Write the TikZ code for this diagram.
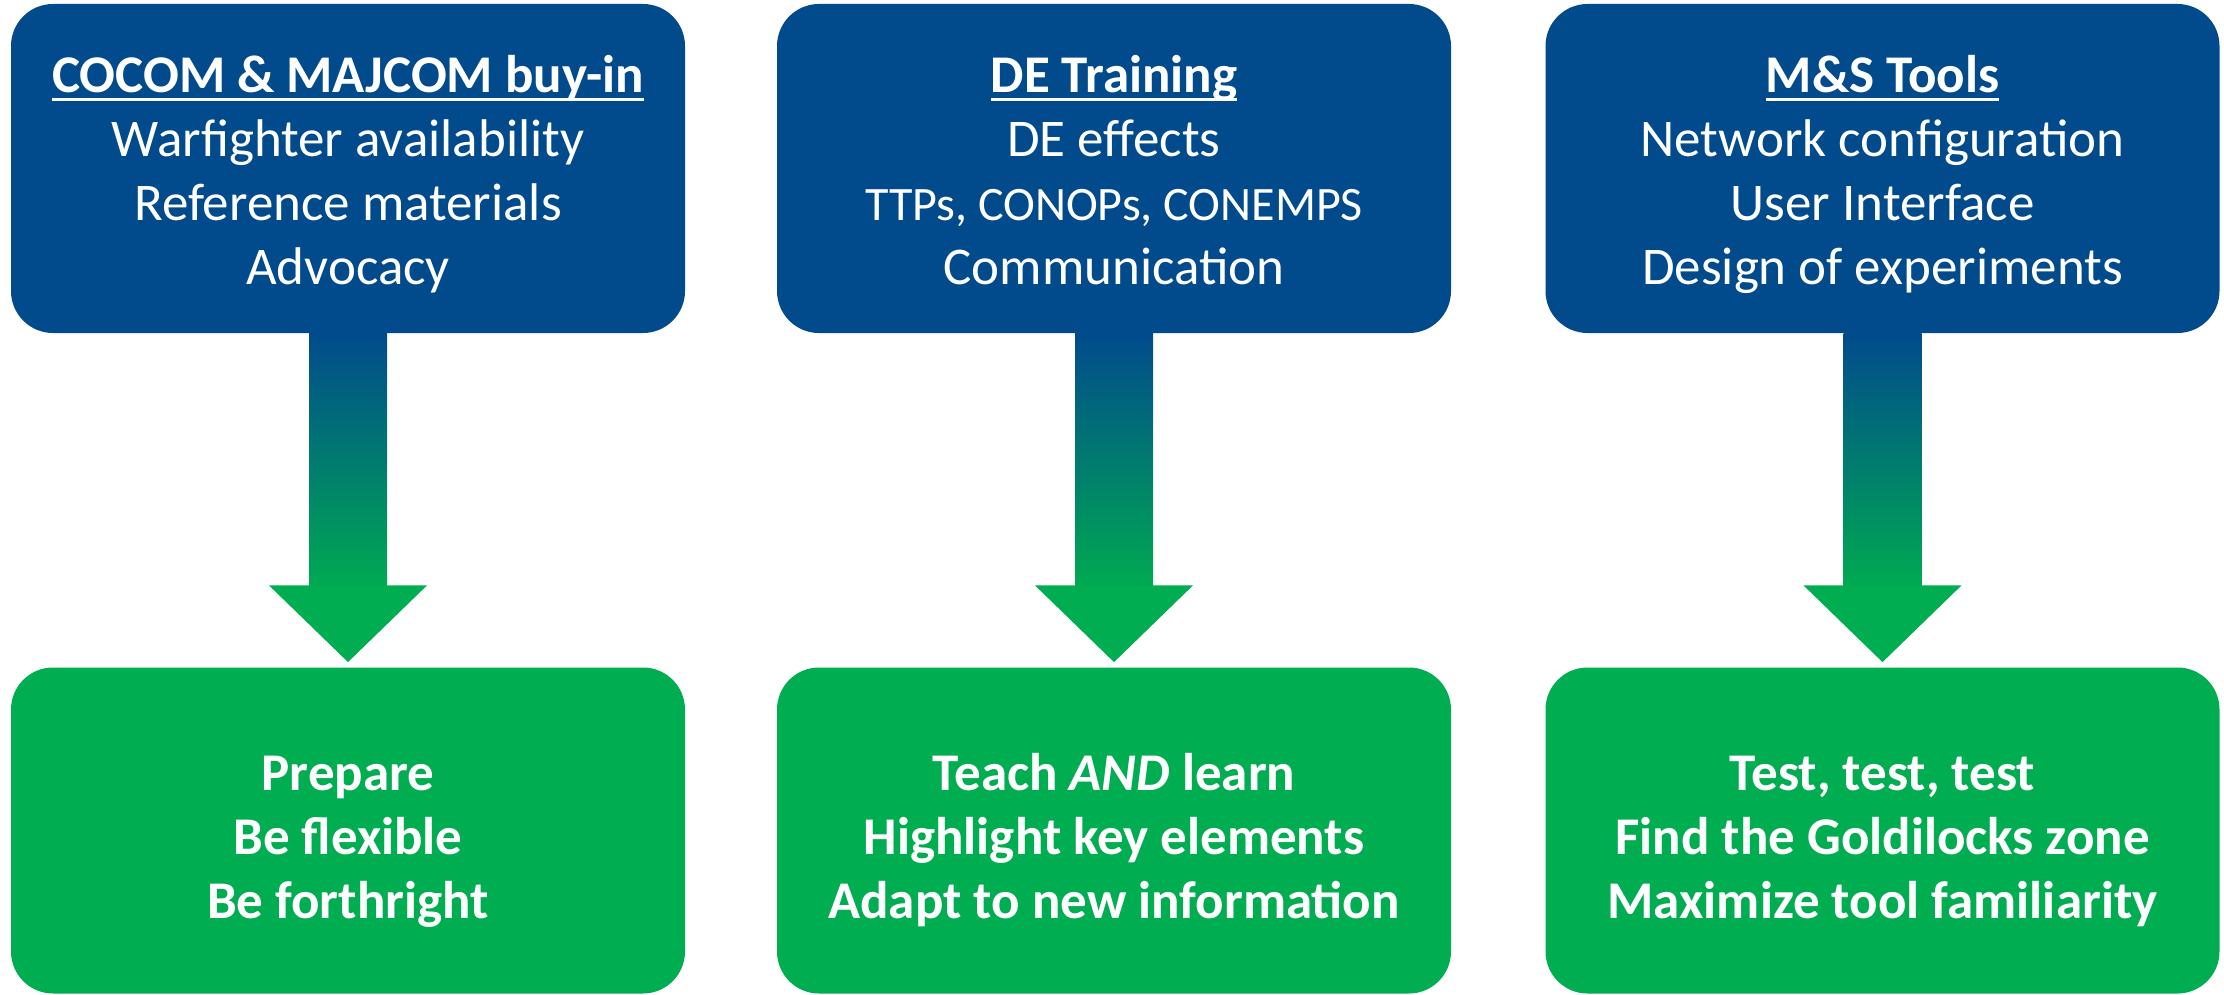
\documentclass[tikz,border=0pt]{standalone}
\usepackage{fontspec}
\setmainfont{Carlito}
\usetikzlibrary{calc}
\definecolor{boxblue}{RGB}{1,75,141}
\definecolor{boxgreen}{RGB}{0,173,80}
\newcommand{\ttl}[1]{{\bfseries\setbox0\hbox{#1}\rlap{\rule[-4.5pt]{\wd0}{1.5pt}}\box0}}
\newcommand{\topstrut}[1]{\rule{0pt}{#1}}
\newcommand{\botstrut}{\rule[-6pt]{0pt}{6pt}}
\tikzset{
  topbox/.style={fill=boxblue, rounded corners=21pt, minimum width=337pt, minimum height=164.5pt, inner sep=0pt, text=white, align=center, font=\fontsize{26.5}{32}\selectfont},
  botbox/.style={fill=boxgreen, rounded corners=21pt, minimum width=337pt, minimum height=163pt, inner sep=0pt, text=white, align=center, font=\fontsize{26.5}{32}\selectfont\bfseries}, 
  shaftfill/.style={top color=boxblue, bottom color=boxgreen!97!boxblue},
  headfill/.style={fill=boxgreen}
}
\begin{document}
\begin{tikzpicture}[x=0.5pt,y=-0.5pt]
\useasboundingbox (0,0) rectangle (2224,995);
% top boxes
\node[topbox] (t1) at (348,168.5) {\topstrut{25.6pt}\ttl{COCOM \& MAJCOM buy-in}\\Warfighter availability\\Reference materials\\Advocacy\botstrut};
\node[topbox] (t2) at (1114,168.5) {\topstrut{25.6pt}\ttl{DE Training}\\DE effects\\{\fontsize{24}{32}\selectfont TTPs, CONOPs, CONEMPS}\\Communication\botstrut};
\node[topbox] (t3) at (1882.5,168.5) {\topstrut{25.6pt}\ttl{M\&S Tools}\\Network configuration\\User Interface\\Design of experiments\botstrut};
% bottom boxes
\node[botbox] (b1) at (348,830.5) {\topstrut{29.5pt}Prepare\\Be flexible\\Be forthright\botstrut};
\node[botbox] (b2) at (1114,830.5) {\topstrut{29.5pt}Teach \textit{AND} learn\\Highlight key elements\\Adapt to new information\botstrut};
\node[botbox] (b3) at (1882.5,830.5) {\topstrut{29.5pt}Test, test, test\\Find the Goldilocks zone\\Maximize tool familiarity\botstrut};
% arrows
\foreach \t/\b in {t1/b1,t2/b2,t3/b3}{
  \shade[shaftfill] ($(\t.south)+(-39,0)$) rectangle ($(\t.south)+(39,253)$);
  \fill[headfill] ($(\t.south)+(-79,252)$) -- ($(\t.south)+(79,252)$) -- ($(\b.north)+(0,-5)$) -- cycle;
}
\end{tikzpicture}
\end{document}
